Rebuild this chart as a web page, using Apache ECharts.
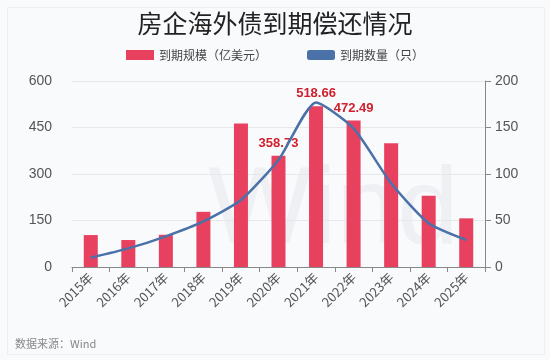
<!DOCTYPE html>
<html><head><meta charset="utf-8">
<script src="https://cdn.jsdelivr.net/npm/echarts@6/dist/echarts.min.js"></script>
<style>html,body{margin:0;padding:0;background:#fff}#c{width:550px;height:360px}</style>
</head><body><div id="c"></div>
<script>
var categories = ['2015年','2016年','2017年','2018年','2019年','2020年','2021年','2022年','2023年','2024年','2025年'];
var amountValues = [103, 87, 104, 178, 463, 358.73, 518.66, 472.49, 399, 230, 157];
var countValues = [10, 20, 33, 49, 72, 115, 177, 149, 90, 47, 29];
var labeledYears = ['2020年','2021年','2022年'];
var leftTicks = [0, 150, 300, 450, 600];
var rightTicks = [0, 50, 100, 150, 200];

var chart = echarts.init(document.getElementById('c'));
var barData = amountValues.map(function(v, i){
  var show = labeledYears.indexOf(categories[i]) >= 0;
  return {value: v, label: {show: show}};
});
chart.setOption({
  backgroundColor: '#f9fafc',
  animation: false,
  graphic: [
    {type:'rect', left:7, top:7, shape:{width:537, height:347}, style:{fill:'#f9fafc', stroke:'#eceef2', lineWidth:1}, z:-10},
    {type:'text', left:208, top:158, style:{text:'Wind', font:'110px Arial', fill:'rgba(200,200,208,0.2)'}, z:-5}
  ],
  title: {text:'房企海外债到期偿还情况', left:'center', top:6,
    textStyle:{fontSize:25, fontWeight:'normal', color:'#222', fontFamily:'Noto Sans CJK SC'}},
  legend: {top:44, left:'center', itemGap:40, itemWidth:28, itemHeight:10,
    textStyle:{fontSize:12, color:'#444', fontFamily:'Noto Sans CJK SC'},
    data:[{name:'到期规模（亿美元）', icon:'rect'}, {name:'到期数量（只）', icon:'roundRect'}]},
  grid: {left:72, right:65, top:81, bottom:93},
  xAxis: {type:'category', data:categories, boundaryGap:true,
    axisLine:{lineStyle:{color:'#888'}}, axisTick:{show:true, alignWithLabel:false, lineStyle:{color:'#888'}},
    axisLabel:{rotate:45, fontSize:13, color:'#555', margin:8, fontFamily:'Noto Sans CJK SC'}},
  yAxis: [
    {type:'value', min:0, max:600, interval:150, position:'left',
      axisLine:{show:false}, axisTick:{show:false},
      axisLabel:{fontSize:14, color:'#555', margin:20},
      splitLine:{lineStyle:{color:'#e6e8ec'}}},
    {type:'value', min:0, max:200, interval:50, position:'right',
      axisLine:{show:true, lineStyle:{color:'#888'}}, axisTick:{show:true, length:6, lineStyle:{color:'#888'}},
      axisLabel:{fontSize:14, color:'#555', margin:10},
      splitLine:{show:false}}
  ],
  series: [
    {name:'到期规模（亿美元）', type:'bar', yAxisIndex:0, data:barData, barWidth:14,
      itemStyle:{color:'#e8405f'},
      label:{position:'top', distance:6, color:'#d0202e', fontWeight:'bold', fontSize:13, fontFamily:'Arial'}},
    {name:'到期数量（只）', type:'line', yAxisIndex:1, data:countValues, smooth:0.2, symbol:'none',
      lineStyle:{color:'#4a72a8', width:2.5}, itemStyle:{color:'#4a72a8'}}
  ]
});
</script>
<div style="position:absolute;left:15px;top:335px;font:11px 'Noto Sans CJK SC';color:#888">数据来源：Wind</div>
</body></html>
